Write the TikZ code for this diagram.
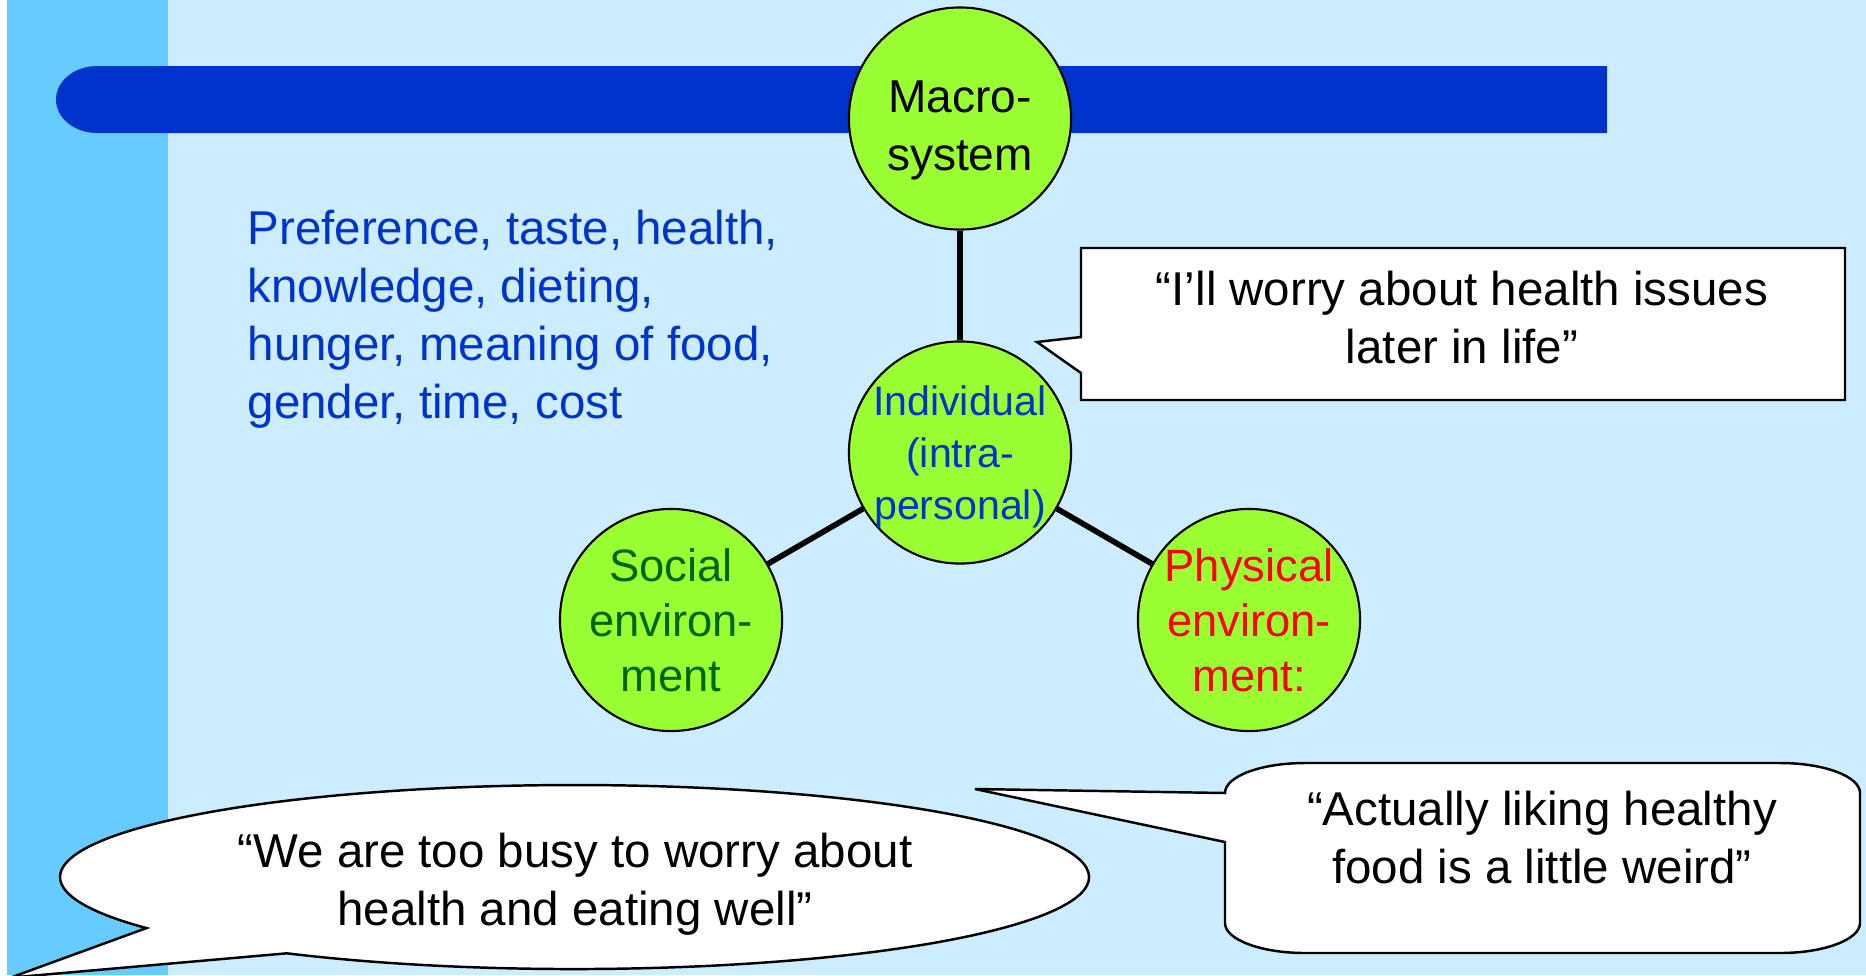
\documentclass[tikz,border=0pt]{standalone}
\usepackage{fontspec}
\setmainfont{Liberation Sans}
\usepackage{tikz}
\definecolor{stripblue}{HTML}{66CCFF}
\definecolor{paleblue}{HTML}{CCECFF}
\definecolor{barblue}{HTML}{0033CC}
\definecolor{limegreen}{HTML}{99FF33}
\definecolor{darkgreen}{HTML}{006600}

\begin{document}
\begin{tikzpicture}[x=0.01cm, y=-0.01cm,
      sysnode/.style={
        circle,
        draw,
        line width=0.6pt,
        fill=limegreen,
        minimum size=2.22cm,
        inner sep=0pt,
        align=center,
        font=\fontsize{12.9}{15.6}\selectfont
      },
      link/.style={line width=1.6pt},
      bubble/.style={draw, fill=white, line width=0.7pt},
      saying/.style={align=center, inner sep=0pt, font=\fontsize{13.5}{16.4}\selectfont}]

    \useasboundingbox (0,0) rectangle (1866,975);
    \fill[white] (0,0) rectangle (1866,975);
    \fill[stripblue] (7,0) rectangle (168,975);
    \fill[paleblue] (168,0) rectangle (1866,975);
    \fill[barblue] (1607,66) -- (97,66)
      arc[start angle=270, end angle=90, x radius=41, y radius=33.5]
      -- (1607,133) -- cycle;

    \node[sysnode, font=\fontsize{13.1}{16.4}\selectfont] (macro) at (960,118.5) {\rule{0pt}{0.46cm}Macro-\\\smash{system}};
    \node[sysnode, text=barblue, font=\fontsize{11.7}{14.7}\selectfont] (indiv) at (960,452.5) {Individual\\(intra-\\\smash{personal)}};
    \node[sysnode, text=darkgreen] (social) at (671,620) {Social\\environ-\\ment};
    \node[sysnode, text=red] (physical) at (1249,620) {Physical\\environ-\\ment:};

    \draw[link] (macro) -- (indiv);
    \draw[link] (indiv) -- (social);
    \draw[link] (indiv) -- (physical);

    \node[saying, text=barblue, align=left, anchor=base west] (factors) at (247,418)
      {Preference, taste, health,\\knowledge, dieting,\\hunger, meaning of food,\\gender, time, cost};

    \draw[bubble] (1081,248) -- (1845,248) -- (1845,400) -- (1081,400)
      -- (1081,373) -- (1037,342) -- (1081,337) -- cycle;
    \node[saying, anchor=base] (later) at (1462,363) {“I’ll worry about health issues\\later in life”};

    \draw[bubble] (10.6,977.6) -- (286.8,953.3)
      arc[start angle=124, end angle=-213.7, x radius=514.5, y radius=92] -- cycle;
    \node[saying, anchor=base] (busy) at (575,925) {“We are too busy to worry about\\health and eating well”};

    \draw[bubble] (975,789) -- (1225,793)
      arc[start angle=180, end angle=270, x radius=80, y radius=30] -- (1780,763)
      arc[start angle=270, end angle=360, x radius=80, y radius=30] -- (1860,923)
      arc[start angle=0, end angle=90, x radius=80, y radius=30] -- (1305,953)
      arc[start angle=90, end angle=180, x radius=80, y radius=30] -- (1225,842) -- cycle;
    \node[saying, anchor=base] (weird) at (1542,883) {“Actually liking healthy\\food is a little weird”};
  \end{tikzpicture}
\end{document}
